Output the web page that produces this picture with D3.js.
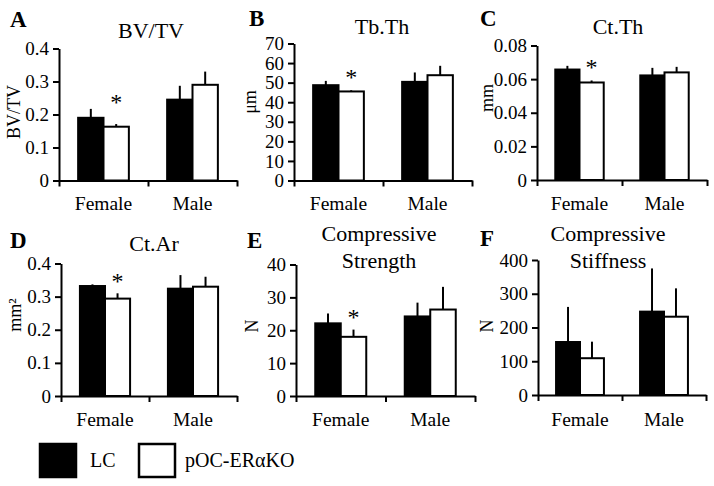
<!DOCTYPE html>
<html>
<head>
<meta charset="utf-8">
<script src="https://cdn.jsdelivr.net/npm/d3@7"></script>
<style>
  html, body { margin: 0; padding: 0; background: #fff; }
  svg { display: block; }
  text { font-family: "Liberation Serif", "Times New Roman", serif; fill: #000; }
</style>
</head>
<body>
<svg id="chart" width="714" height="486"></svg>
<script>
// ---------- data ----------
const categories = ["Female", "Male"];
const seriesNames = ["LC", "pOC-ERαKO"];

const bvtvLC = [0.19, 0.245];
const bvtvLCErr = [0.027, 0.042];
const bvtvKO = [0.163, 0.29];
const bvtvKOErr = [0.008, 0.04];
const bvtvTicks = [0, 0.1, 0.2, 0.3, 0.4];

const tbthLC = [48.7, 50.4];
const tbthLCErr = [2.2, 4.8];
const tbthKO = [45.5, 53.8];
const tbthKOErr = [0.6, 4.8];
const tbthTicks = [0, 10, 20, 30, 40, 50, 60, 70];

const ctthLC = [0.0657, 0.0622];
const ctthLCErr = [0.0022, 0.0045];
const ctthKO = [0.058, 0.064];
const ctthKOErr = [0.0012, 0.0033];
const ctthTicks = [0, 0.02, 0.04, 0.06, 0.08];

const ctarLC = [0.332, 0.324];
const ctarLCErr = [0.005, 0.041];
const ctarKO = [0.294, 0.33];
const ctarKOErr = [0.016, 0.03];
const ctarTicks = [0, 0.1, 0.2, 0.3, 0.4];

const strLC = [22.1, 24.2];
const strLCErr = [3.0, 4.2];
const strKO = [18.0, 26.3];
const strKOErr = [2.2, 6.9];
const strTicks = [0, 10, 20, 30, 40];

const stfLC = [157, 247];
const stfLCErr = [104, 128];
const stfKO = [109, 232];
const stfKOErr = [49, 84];
const stfTicks = [0, 100, 200, 300, 400];

// significance marks (KO vs LC), per category
const bvtvSig = [true, false];
const tbthSig = [true, false];
const ctthSig = [true, false];
const ctarSig = [true, false];
const strSig = [true, false];
const stfSig = [false, false];

// ---------- layout (positions only) ----------
const panels = [
  { letter: "A", title: ["BV/TV"], ylabel: "BV/TV", lc: bvtvLC, lcE: bvtvLCErr, ko: bvtvKO, koE: bvtvKOErr, ticks: bvtvTicks, sig: bvtvSig,
    x0: 59, x1: 237, yTop: 48.5, y0: 180.5, letterXY: [10, 27], titleX: 151, titleY: [38], ylabX: 20, ylabY: 112, catY: 210, sigOff: 14 },
  { letter: "B", title: ["Tb.Th"], ylabel: "μm", lc: tbthLC, lcE: tbthLCErr, ko: tbthKO, koE: tbthKOErr, ticks: tbthTicks, sig: tbthSig,
    x0: 294, x1: 472, yTop: 43.5, y0: 180.5, letterXY: [249, 26], titleX: 382, titleY: [34], ylabX: 256, ylabY: 102, catY: 210, sigOff: 5 },
  { letter: "C", title: ["Ct.Th"], ylabel: "mm", lc: ctthLC, lcE: ctthLCErr, ko: ctthKO, koE: ctthKOErr, ticks: ctthTicks, sig: ctthSig,
    x0: 537, x1: 707, yTop: 45.5, y0: 180, letterXY: [480, 26], titleX: 618, titleY: [34], ylabX: 493, ylabY: 98, catY: 210, sigOff: 5 },
  { letter: "D", title: ["Ct.Ar"], ylabel: "mm²", lc: ctarLC, lcE: ctarLCErr, ko: ctarKO, koE: ctarKOErr, ticks: ctarTicks, sig: ctarSig,
    x0: 61, x1: 237, yTop: 263.5, y0: 396, letterXY: [10, 248], titleX: 154, titleY: [251], ylabX: 21, ylabY: 315, catY: 426, sigOff: 4 },
  { letter: "E", title: ["Compressive", "Strength"], ylabel: "N", lc: strLC, lcE: strLCErr, ko: strKO, koE: strKOErr, ticks: strTicks, sig: strSig,
    x0: 296, x1: 475, yTop: 264.5, y0: 396, letterXY: [247, 248], titleX: 379, titleY: [241, 268], ylabX: 258, ylabY: 326, catY: 426, sigOff: 5 },
  { letter: "F", title: ["Compressive", "Stiffness"], ylabel: "N", lc: stfLC, lcE: stfLCErr, ko: stfKO, koE: stfKOErr, ticks: stfTicks, sig: stfSig,
    x0: 538, x1: 706, yTop: 260, y0: 395, letterXY: [480, 246], titleX: 608, titleY: [241, 268], ylabX: 493, ylabY: 326, catY: 426, sigOff: 5 }
];

const svg = d3.select("#chart");
const fmt = d3.format("~g");
const serif = "'Liberation Serif', 'Times New Roman', serif";

panels.forEach(p => {
  const g = svg.append("g");
  const maxV = p.ticks[p.ticks.length - 1];
  const y = d3.scaleLinear().domain([0, maxV]).range([p.y0, p.yTop]);
  const x = d3.scaleBand().domain(categories).range([p.x0, p.x1]).paddingInner(0.43).paddingOuter(0.215);
  const xs = d3.scaleBand().domain(seriesNames).range([0, x.bandwidth()]);

  const rows = categories.map((c, i) => ({
    cat: c,
    vals: [
      { s: seriesNames[0], v: p.lc[i], e: p.lcE[i] },
      { s: seriesNames[1], v: p.ko[i], e: p.koE[i] }
    ],
    sig: p.sig[i]
  }));

  rows.forEach(r => {
    r.vals.forEach(d => {
      const cx = x(r.cat) + xs(d.s) + xs.bandwidth() / 2;
      g.append("line")
        .attr("x1", cx).attr("x2", cx)
        .attr("y1", y(d.v)).attr("y2", y(d.v + d.e))
        .attr("stroke", "#000").attr("stroke-width", 2);
    });
  });

  rows.forEach(r => {
    g.selectAll(null).data(r.vals).enter().append("rect")
      .attr("x", d => x(r.cat) + xs(d.s))
      .attr("y", d => y(d.v))
      .attr("width", xs.bandwidth())
      .attr("height", d => p.y0 - y(d.v))
      .attr("fill", (d, i) => i === 0 ? "#000" : "#fff")
      .attr("stroke", "#000").attr("stroke-width", 2);
    if (r.sig) {
      const d = r.vals[1];
      g.append("text")
        .attr("x", x(r.cat) + xs(d.s) + xs.bandwidth() / 2)
        .attr("y", y(d.v + d.e) - p.sigOff)
        .attr("text-anchor", "middle")
        .style("font-size", "24px")
        .text("*");
    }
  });

  const yAxis = d3.axisLeft(y).tickValues(p.ticks).tickFormat(fmt).tickSizeInner(6).tickSizeOuter(0).tickPadding(4);
  const ya = g.append("g").attr("transform", `translate(${p.x0},0)`).call(yAxis);
  ya.attr("font-family", null);
  ya.select(".domain").attr("stroke-width", 2);
  ya.selectAll(".tick line").attr("stroke-width", 2);
  ya.selectAll("text").style("font-size", "19px").style("font-family", serif);

  const xl = d3.scaleLinear().domain([0, 2]).range([p.x0, p.x1]);
  const xAxis = d3.axisBottom(xl).tickValues([0, 1, 2]).tickFormat("").tickSizeInner(6).tickSizeOuter(0);
  const xa = g.append("g").attr("transform", `translate(0,${p.y0})`).call(xAxis);
  xa.select(".domain").attr("stroke-width", 2);
  xa.selectAll(".tick line").attr("stroke-width", 2);

  g.selectAll(null).data(categories).enter().append("text")
    .attr("x", c => x(c) + x.bandwidth() / 2)
    .attr("y", p.catY)
    .attr("text-anchor", "middle")
    .style("font-size", "19.5px")
    .text(c => c);

  p.title.forEach((t, i) => {
    g.append("text").attr("x", p.titleX).attr("y", p.titleY[i])
      .attr("text-anchor", "middle").style("font-size", "22px").text(t);
  });

  g.append("text").attr("x", p.letterXY[0]).attr("y", p.letterXY[1])
    .style("font-size", "23px").style("font-weight", "bold").text(p.letter);

  g.append("text")
    .attr("transform", `translate(${p.ylabX},${p.ylabY}) rotate(-90)`)
    .attr("text-anchor", "middle")
    .style("font-size", "18px")
    .text(p.ylabel);
});

const legend = svg.append("g");
const legendX = [40, 139];
const legendTextX = [90, 185];
seriesNames.forEach((s, i) => {
  legend.append("rect")
    .attr("x", legendX[i]).attr("y", 444)
    .attr("width", 36).attr("height", 33)
    .attr("fill", i === 0 ? "#000" : "#fff")
    .attr("stroke", "#000").attr("stroke-width", 2.5);
  legend.append("text")
    .attr("x", legendTextX[i]).attr("y", 467)
    .style("font-size", "20px")
    .text(s);
});
</script>
</body>
</html>
